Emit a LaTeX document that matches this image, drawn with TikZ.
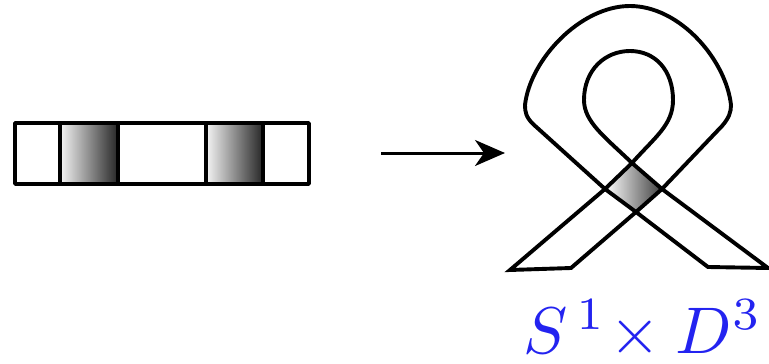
\documentclass[tikz,border=0pt]{standalone}
\usetikzlibrary{arrows.meta}
\definecolor{labelblue}{RGB}{35,35,240}

\begin{document}
\begin{tikzpicture}[x = 1pt, y = -1pt, line join = round,
        edge/.style={line width = 3.8pt},
        band/.style={line width = 3.9pt, line join = miter},
        shadecell/.style={left color = gray!8, right color = black!85}]
        \useasboundingbox (0, 0) rectangle (769, 364);
        %
        \def\BarTop{123}
        \def\BarBottom{184}

        % bar with its two shaded cells
        \begin{scope}[local bounding box = bar]
            \foreach \xa/\xb in {60/118, 206/263}
                \shade [shadecell] (\xa, \BarTop) rectangle (\xb, \BarBottom);
            \foreach \xa in {60, 118, 206, 263}
                \draw [edge] (\xa, \BarTop) -- (\xa, \BarBottom);
            \draw [edge] (15, \BarTop) rectangle (309, \BarBottom);
        \end{scope}

        % map arrow
        \coordinate (from) at (381, 153);
        \coordinate (to) at (505, 153);
        \draw [line width = 3pt, -{Stealth[length = 30pt, width = 26pt, inset = 9pt]}] (from) -- (to);

        % ribbon, crossing square first
        \begin{scope}[local bounding box = ribbon]
            \coordinate (L) at (605, 189);
            \coordinate (T) at (632, 163);
            \coordinate (R) at (662, 189);
            \coordinate (B) at (636, 212);
            \shade [left color = white, right color = black!75] (L) -- (T) -- (R) -- (B) -- cycle;
            \draw [band] (510, 270) -- (L) -- (T)
                .. controls (655, 137) and (673, 125) .. (673, 100)
                .. controls (673, 70) and (655, 51) .. (630, 51)
                .. controls (605, 51) and (584, 70) .. (584, 100)
                .. controls (584, 122) and (605, 137) .. (T)
                -- (R) -- (768, 268) -- (708, 267) -- (B) -- (L) -- (533, 124)
                .. controls (526, 117) and (525, 112) .. (525, 105)
                .. controls (530, 60) and (580, 6) .. (630, 6)
                .. controls (680, 6) and (726, 60) .. (731, 105)
                .. controls (731, 112) and (729, 118) .. (722, 126)
                -- (R) -- (B) -- (571, 268) -- cycle;
        \end{scope}

        \node (space) [anchor = base west, inner sep = 0pt, text = labelblue, scale = 6.6]
            at (522, 353) {$S^{\,1}\!\times D^{3}$};
    \end{tikzpicture}
\end{document}
